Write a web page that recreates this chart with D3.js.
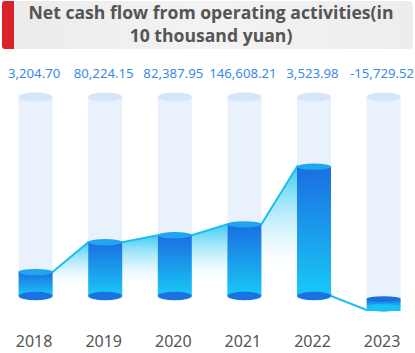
<!DOCTYPE html>
<html><head><meta charset="utf-8">
<script src="https://cdn.jsdelivr.net/npm/d3@7"></script>
<style>html,body{margin:0;padding:0;background:#fff;}svg{display:block;}</style>
</head><body>
<svg id="chart" width="415" height="353"></svg>
<script>
const titleLines = ["Net cash flow from operating activities(in", "10 thousand yuan)"];
const years = ["2018", "2019", "2020", "2021", "2022", "2023"];
const valueLabels = ["3,204.70", "80,224.15", "82,387.95", "146,608.21", "3,523.98", "-15,729.52"];
// bar heights as drawn in the picture (arbitrary units on the chart's own axis)
const barValues = [24, 54, 61, 72, 130, -12];
// line levels where it meets each bar (left side, right side)
const lineEnter = [24, 54, 61, 72, 130, -14];
const lineExit = [24, 54, 61, 72, 0, -14];
const axisMax = 200;

const svg = d3.select("#chart");
const defs = svg.append("defs");

// header
const hg = defs.append("linearGradient").attr("id", "hg").attr("x1", 0).attr("x2", 1).attr("y1", 0).attr("y2", 0);
hg.append("stop").attr("offset", "0%").attr("stop-color", "#ebebeb");
hg.append("stop").attr("offset", "50%").attr("stop-color", "#f3f3f3");
hg.append("stop").attr("offset", "100%").attr("stop-color", "#ededed");
svg.append("rect").attr("x", 2).attr("y", 1).attr("width", 411).attr("height", 48).attr("rx", 4).attr("fill", "url(#hg)");
svg.append("rect").attr("x", 2).attr("y", 1).attr("width", 12).attr("height", 48).attr("rx", 3).attr("fill", "#d9222a");
svg.append("rect").attr("x", 8).attr("y", 1).attr("width", 6).attr("height", 48).attr("fill", "#d9222a");
svg.append("g").selectAll("text").data(titleLines).join("text")
  .attr("x", 211).attr("y", (d, i) => 19 + i * 23)
  .attr("text-anchor", "middle")
  .attr("font-family", "'Open Sans', 'Noto Sans', sans-serif")
  .attr("font-weight", "bold").attr("font-size", 17.6).attr("fill", "#555")
  .text(d => d);

const x = d3.scalePoint().domain(years).range([35.6, 383.6]);
const y = d3.scaleLinear().domain([0, axisMax]).range([296, 97]);
const bw = 34, ry = 4.2;

// gradients
const bg = defs.append("linearGradient").attr("id", "barg").attr("x1", 0).attr("x2", 0).attr("y1", 0).attr("y2", 1);
bg.append("stop").attr("offset", "0%").attr("stop-color", "#1b6ee0");
bg.append("stop").attr("offset", "100%").attr("stop-color", "#19c9f7");
const ag = defs.append("linearGradient").attr("id", "areag").attr("x1", 0).attr("x2", 0).attr("y1", 0).attr("y2", 1);
ag.append("stop").attr("offset", "0%").attr("stop-color", "#1cc3f0").attr("stop-opacity", 0.85);
ag.append("stop").attr("offset", "45%").attr("stop-color", "#8fe0f8").attr("stop-opacity", 0.45);
ag.append("stop").attr("offset", "85%").attr("stop-color", "#ffffff").attr("stop-opacity", 0);

// background cylinders
const bgG = svg.append("g");
years.forEach(yr => {
  const cx = x(yr);
  bgG.append("rect").attr("x", cx - bw / 2).attr("y", y(axisMax)).attr("width", bw).attr("height", y(0) - y(axisMax) + 3).attr("fill", "#e9f1fc");
  bgG.append("ellipse").attr("cx", cx).attr("cy", y(axisMax)).attr("rx", bw / 2).attr("ry", ry + 0.3).attr("fill", "#d6e6fa");
});

// area segments
const areaG = svg.append("g");
for (let i = 0; i < years.length - 1; i++) {
  const x0 = x(years[i]) + bw / 2, x1 = x(years[i + 1]) - bw / 2;
  const y0 = y(lineExit[i]), y1 = y(lineEnter[i + 1]);
  if (lineExit[i] <= 0 || lineEnter[i + 1] <= 0) continue;
  const area = d3.area().x(d => d[0]).y0(y(0)).y1(d => d[1]);
  areaG.append("path").attr("d", area([[x0, y0], [x1, y1]])).attr("fill", "url(#areag)");
}

// line
const pts = [];
years.forEach((yr, i) => {
  pts.push([x(yr) - bw / 2, y(lineEnter[i])]);
  pts.push([x(yr) + bw / 2, y(lineExit[i])]);
});
svg.append("path").attr("d", d3.line()(pts)).attr("fill", "none").attr("stroke", "#1bbfee").attr("stroke-width", 2);

// bars
const barG = svg.append("g");
years.forEach((yr, i) => {
  const cx = x(yr), v = barValues[i];
  if (v >= 0) {
    const top = y(v), base = y(0);
    barG.append("rect").attr("x", cx - bw / 2).attr("y", top).attr("width", bw).attr("height", base - top).attr("fill", "url(#barg)");
    barG.append("ellipse").attr("cx", cx).attr("cy", base).attr("rx", bw / 2).attr("ry", ry).attr("fill", "#1a72e2");
    barG.append("ellipse").attr("cx", cx).attr("cy", top).attr("rx", bw / 2).attr("ry", ry - 1).attr("fill", "#1fa6f0");
  } else {
    const top = y(0) + 3, bot = y(v);
    barG.append("rect").attr("x", cx - bw / 2).attr("y", top).attr("width", bw).attr("height", bot - top).attr("fill", "url(#barg)");
    barG.append("ellipse").attr("cx", cx).attr("cy", bot).attr("rx", bw / 2).attr("ry", ry - 0.5).attr("fill", "#19c2f5");
    barG.append("ellipse").attr("cx", cx).attr("cy", top).attr("rx", bw / 2).attr("ry", ry - 1.5).attr("fill", "#1a6ee0");
  }
});

// value labels
svg.append("g").selectAll("text").data(valueLabels).join("text")
  .attr("x", (d, i) => x(years[i]) - 1.5).attr("y", 78)
  .attr("text-anchor", "middle")
  .attr("font-family", "'Noto Sans', 'Open Sans', sans-serif")
  .attr("font-size", 13.2).attr("fill", "#3a8be6")
  .text(d => d);

// year labels
svg.append("g").selectAll("text").data(years).join("text")
  .attr("x", d => x(d) - 1.5).attr("y", 347)
  .attr("text-anchor", "middle")
  .attr("font-family", "'Noto Sans', 'Open Sans', sans-serif")
  .attr("font-size", 16).attr("fill", "#555")
  .text(d => d);
</script>
</body></html>
